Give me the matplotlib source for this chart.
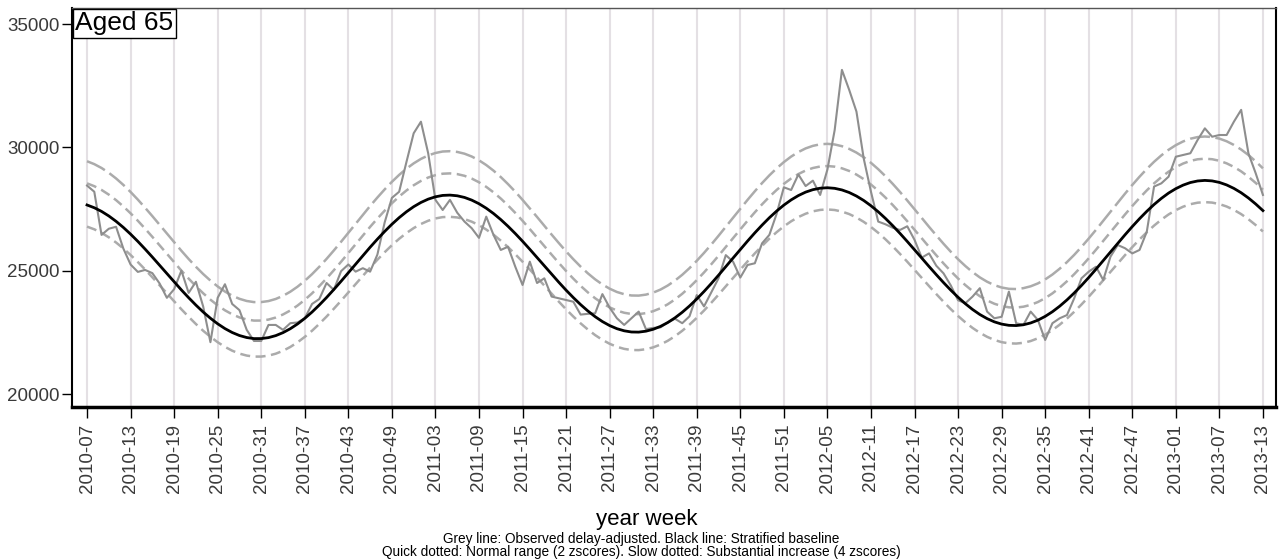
import numpy as np
import matplotlib
matplotlib.use("Agg")
import matplotlib.pyplot as plt

plt.rcParams['font.family'] = ['Liberation Sans', 'DejaVu Sans']

# weekly counts, 2010-07 .. 2013-13
observed = [28450, 28200, 26450, 26700, 26780, 25900, 25250, 24950, 25030, 24900,
            24480, 23900, 24250, 25000, 24100, 24550, 23550, 22100, 23900, 24450,
            23650, 23400, 22600, 22150, 22150, 22800, 22800, 22600, 22870, 22900,
            23070, 23650, 23850, 24500, 24220, 24980, 25250, 24960, 25100, 24960,
            25650, 26950, 27950, 28200, 29400, 30570, 31040, 29760, 27870, 27460,
            27870, 27350, 26990, 26720, 26330, 27190, 26450, 25840, 25970, 25160,
            24420, 25365, 24500, 24690, 23950, 23880, 23810, 23740, 23220, 23250,
            23270, 24050, 23500, 23070, 22800, 23070, 23340, 22630, 22680, 22700,
            22900, 23050, 22870, 23150, 24010, 23550, 24120, 24690, 25630, 25365,
            24720, 25230, 25300, 26110, 26450, 27300, 28380, 28270, 28900, 28430,
            28650, 28070, 29100, 30700, 33140, 32330, 31450, 29550, 28200, 26990,
            26880, 26740, 26650, 26800, 26250, 25530, 25700, 25200, 24890, 24400,
            23800, 23680, 23950, 24290, 23340, 23070, 23130, 24150, 22870, 22800,
            23340, 23000, 22190, 22870, 23070, 23200, 23880, 24690, 24960, 25160,
            24620, 25570, 26040, 25910, 25700, 25840, 26580, 28410, 28540, 28810,
            29620, 29690, 29760, 30300, 30770, 30430, 30500, 30500, 31040, 31520,
            29760, 28950, 28070]

baseline = [27663, 27551, 27403, 27218, 27001, 26754, 26481, 26187, 25875, 25551,
            25217, 24881, 24547, 24219, 23904, 23604, 23324, 23072, 22846, 22652,
            22493, 22371, 22289, 22246, 22247, 22286, 22367, 22488, 22646, 22840,
            23067, 23323, 23608, 23912, 24236, 24571, 24915, 25264, 25609, 25950,
            26277, 26589, 26882, 27149, 27387, 27594, 27765, 27900, 27995, 28051,
            28064, 28036, 27969, 27860, 27714, 27532, 27317, 27071, 26799, 26505,
            26193, 25867, 25533, 25195, 24859, 24529, 24209, 23907, 23624, 23366,
            23135, 22937, 22774, 22648, 22562, 22514, 22509, 22547, 22624, 22741,
            22897, 23088, 23313, 23569, 23852, 24156, 24479, 24816, 25161, 25511,
            25859, 26201, 26533, 26848, 27145, 27415, 27658, 27869, 28045, 28185,
            28284, 28343, 28362, 28338, 28273, 28169, 28025, 27846, 27632, 27388,
            27117, 26823, 26511, 26184, 25849, 25510, 25170, 24838, 24516, 24209,
            23922, 23661, 23426, 23223, 23056, 22925, 22834, 22784, 22775, 22807,
            22880, 22994, 23147, 23336, 23560, 23814, 24095, 24400, 24722, 25060,
            25407, 25758, 26109, 26454, 26788, 27107, 27406, 27682, 27929, 28146,
            28325, 28468, 28573, 28636, 28659, 28639, 28578, 28476, 28335, 28159,
            27947, 27704, 27435]

upper_2z = [28540, 28425, 28273, 28083, 27860, 27606, 27326, 27024, 26703, 26371,
            26028, 25683, 25340, 25003, 24679, 24371, 24084, 23825, 23593, 23393,
            23230, 23105, 23020, 22976, 22977, 23017, 23100, 23224, 23386, 23585,
            23818, 24081, 24373, 24685, 25017, 25361, 25714, 26072, 26426, 26776,
            27111, 27431, 27732, 28006, 28250, 28462, 28638, 28776, 28873, 28931,
            28944, 28915, 28846, 28734, 28584, 28397, 28176, 27924, 27644, 27343,
            27022, 26687, 26345, 25997, 25652, 25314, 24985, 24675, 24384, 24119,
            23882, 23679, 23512, 23382, 23294, 23244, 23239, 23278, 23357, 23477,
            23637, 23833, 24063, 24326, 24616, 24928, 25259, 25605, 25959, 26318,
            26675, 27026, 27366, 27690, 27994, 28271, 28520, 28737, 28917, 29061,
            29162, 29223, 29242, 29217, 29150, 29043, 28896, 28712, 28492, 28241,
            27963, 27661, 27341, 27005, 26661, 26313, 25964, 25624, 25293, 24978,
            24683, 24415, 24174, 23965, 23794, 23659, 23566, 23514, 23505, 23539,
            23613, 23729, 23886, 24080, 24310, 24570, 24858, 25171, 25502, 25848,
            26204, 26564, 26924, 27278, 27621, 27948, 28255, 28538, 28791, 29013,
            29197, 29343, 29451, 29516, 29539, 29518, 29456, 29351, 29206, 29025,
            28808, 28558, 28282]

lower_2z = [26786, 26677, 26533, 26353, 26142, 25902, 25636, 25350, 25047, 24731,
            24406, 24079, 23754, 23435, 23129, 22837, 22564, 22319, 22099, 21911,
            21756, 21637, 21558, 21516, 21517, 21555, 21634, 21752, 21906, 22095,
            22316, 22565, 22843, 23139, 23455, 23781, 24116, 24456, 24792, 25124,
            25443, 25747, 26032, 26292, 26524, 26726, 26892, 27024, 27117, 27171,
            27184, 27157, 27092, 26986, 26844, 26667, 26458, 26218, 25954, 25667,
            25364, 25047, 24721, 24393, 24066, 23744, 23433, 23139, 22864, 22613,
            22388, 22195, 22036, 21914, 21830, 21784, 21779, 21816, 21891, 22005,
            22157, 22343, 22563, 22812, 23088, 23384, 23699, 24027, 24363, 24704,
            25043, 25376, 25700, 26006, 26296, 26559, 26796, 27001, 27173, 27309,
            27406, 27463, 27482, 27459, 27396, 27295, 27154, 26980, 26772, 26535,
            26271, 25985, 25681, 25363, 25037, 24707, 24376, 24052, 23739, 23440,
            23161, 22907, 22678, 22481, 22318, 22191, 22102, 22054, 22045, 22075,
            22147, 22259, 22408, 22592, 22810, 23058, 23332, 23629, 23942, 24272,
            24610, 24952, 25294, 25630, 25955, 26266, 26557, 26826, 27067, 27279,
            27453, 27593, 27695, 27756, 27779, 27760, 27700, 27601, 27464, 27293,
            27086, 26850, 26588]

upper_4z = [29437, 29319, 29163, 28968, 28739, 28478, 28191, 27881, 27551, 27211,
            26859, 26505, 26153, 25807, 25474, 25158, 24864, 24598, 24360, 24154,
            23987, 23859, 23771, 23726, 23727, 23768, 23853, 23980, 24146, 24350,
            24589, 24859, 25158, 25478, 25818, 26171, 26533, 26900, 27263, 27622,
            27965, 28293, 28602, 28883, 29133, 29350, 29531, 29672, 29771, 29831,
            29844, 29814, 29743, 29628, 29474, 29282, 29055, 28797, 28509, 28201,
            27871, 27527, 27177, 26819, 26465, 26119, 25781, 25463, 25164, 24892,
            24649, 24441, 24270, 24136, 24046, 23994, 23989, 24029, 24110, 24233,
            24397, 24598, 24833, 25103, 25400, 25720, 26059, 26414, 26777, 27145,
            27511, 27871, 28219, 28552, 28863, 29147, 29402, 29625, 29809, 29957,
            30060, 30123, 30142, 30116, 30047, 29937, 29787, 29598, 29372, 29114,
            28829, 28519, 28191, 27846, 27493, 27136, 26778, 26430, 26090, 25767,
            25464, 25189, 24942, 24727, 24552, 24413, 24318, 24264, 24255, 24291,
            24366, 24484, 24645, 24844, 25080, 25346, 25641, 25962, 26302, 26656,
            27021, 27390, 27759, 28122, 28474, 28809, 29124, 29414, 29673, 29900,
            30089, 30238, 30349, 30416, 30439, 30417, 30354, 30246, 30097, 29911,
            29689, 29432, 29149]

tick_labels = ["2010-07", "2010-13", "2010-19", "2010-25", "2010-31", "2010-37",
               "2010-43", "2010-49", "2011-03", "2011-09", "2011-15", "2011-21",
               "2011-27", "2011-33", "2011-39", "2011-45", "2011-51", "2012-05",
               "2012-11", "2012-17", "2012-23", "2012-29", "2012-35", "2012-41",
               "2012-47", "2013-01", "2013-07", "2013-13"]
y_ticks = [20000, 25000, 30000, 35000]

weeks = np.arange(len(observed))

fig = plt.figure(figsize=(12.81, 5.6), dpi=100)
ax = fig.add_axes([72/1281, 1-407/560, (1276-72)/1281, (407-8)/560])

band = '#ababab'
ax.plot(weeks, upper_4z, color=band, lw=1.8, dashes=(8, 2.2))
ax.plot(weeks, upper_2z, color=band, lw=1.8, dashes=(4, 2.2))
ax.plot(weeks, lower_2z, color=band, lw=1.8, dashes=(4, 2.2))
ax.plot(weeks, observed, color='#8e8e8e', lw=1.5)
ax.plot(weeks, baseline, color='black', lw=2)

ax.set_xlim(-2.07, 163.8)
ax.set_ylim(19473, 35649)
ax.set_xticks(weeks[::6])
ax.set_xticklabels(tick_labels, rotation=90)
ax.set_yticks(y_ticks)
ax.grid(axis='x', color='#e4e0e4', lw=1.5)
ax.set_axisbelow(True)

ax.tick_params(axis='both', direction='out', length=7, width=1, color='black',
               labelsize=13.5, labelcolor='#3a3a3a', pad=2)
ax.tick_params(axis='x', length=8, pad=4)
ax.spines['left'].set_linewidth(1.5)
ax.spines['bottom'].set_linewidth(2.5)
ax.spines['right'].set_linewidth(1.5)
ax.spines['top'].set_linewidth(1)
ax.spines['top'].set_color('#555555')

ax.annotate('Aged 65', xy=(0, 1), xycoords='axes fraction', xytext=(2.5, -2.5),
            textcoords='offset points', ha='left', va='top', fontsize=19,
            bbox=dict(facecolor='white', edgecolor='black', lw=1,
                      boxstyle='square,pad=0.1'))

fig.text(647/1281, 1-519/560, 'year week', ha='center', va='center', fontsize=16)
fig.text(641/1281, 1-539/560,
         'Grey line: Observed delay-adjusted. Black line: Stratified baseline',
         ha='center', va='center', fontsize=9.8)
fig.text(641/1281, 1-552/560,
         'Quick dotted: Normal range (2 zscores). Slow dotted: Substantial increase (4 zscores)',
         ha='center', va='center', fontsize=9.8)

fig.savefig('out.png', dpi=100)
